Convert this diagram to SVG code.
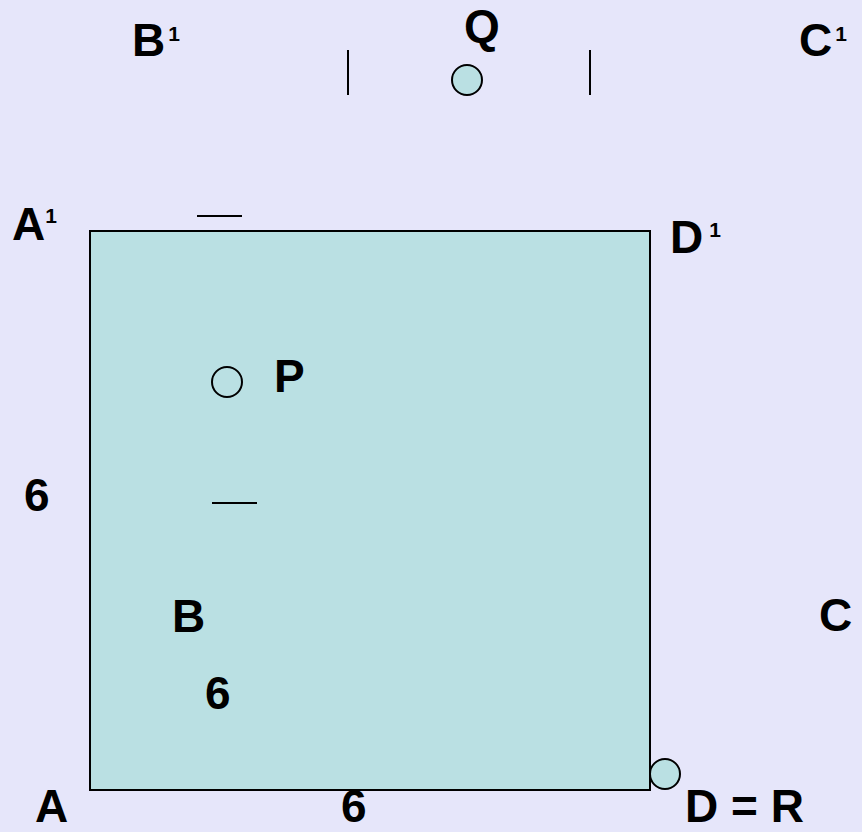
<svg xmlns="http://www.w3.org/2000/svg" width="862" height="832" viewBox="0 0 862 832">
<style>
.lbl{font-family:"Liberation Sans",Arial,sans-serif;font-weight:bold;font-size:46px;fill:#000}
.sup{font-size:21px}
.ln{stroke:#000;stroke-width:2;fill:none}
.pt{stroke:#000;stroke-width:2}
</style>
<rect x="0" y="0" width="862" height="832" fill="#E6E6FA"/>
<g id="square"><rect x="90" y="231" width="560" height="559" fill="#BAE0E3" stroke="#000" stroke-width="2"/></g>
<g id="connectors">
<line class="ln" x1="348" y1="50" x2="348" y2="95"/>
<line class="ln" x1="590" y1="50" x2="590" y2="95"/>
<line class="ln" x1="197" y1="216" x2="242" y2="216"/>
<line class="ln" x1="212" y1="503" x2="257" y2="503"/>
</g>
<g id="Q"><circle class="pt" cx="467" cy="80" r="15" fill="#BAE0E3"/><text class="lbl" x="464" y="42">Q</text></g>
<g id="P"><circle class="pt" cx="227" cy="382" r="15" fill="none"/><text class="lbl" x="274" y="392">P</text></g>
<g id="R"><circle class="pt" cx="665" cy="774" r="15" fill="#BAE0E3"/></g>
<g id="B1"><text class="lbl" x="132" y="56">B<tspan class="sup" dx="3" dy="-15">1</tspan></text></g>
<g id="C1"><text class="lbl" x="799" y="56">C<tspan class="sup" dx="3" dy="-15">1</tspan></text></g>
<g id="A1"><text class="lbl" x="12" y="240">A<tspan class="sup" dx="0" dy="-17">1</tspan></text></g>
<g id="D1"><text class="lbl" x="670" y="253">D<tspan class="sup" dx="6" dy="-16">1</tspan></text></g>
<g id="six1"><text class="lbl" x="24" y="511">6</text></g>
<g id="B"><text class="lbl" x="172" y="632">B</text></g>
<g id="C"><text class="lbl" x="819" y="631">C</text></g>
<g id="six2"><text class="lbl" x="205" y="709">6</text></g>
<g id="A"><text class="lbl" x="35" y="822">A</text></g>
<g id="six3"><text class="lbl" x="341" y="822">6</text></g>
<g id="DR"><text class="lbl" x="685" y="822">D = R</text></g>
</svg>
